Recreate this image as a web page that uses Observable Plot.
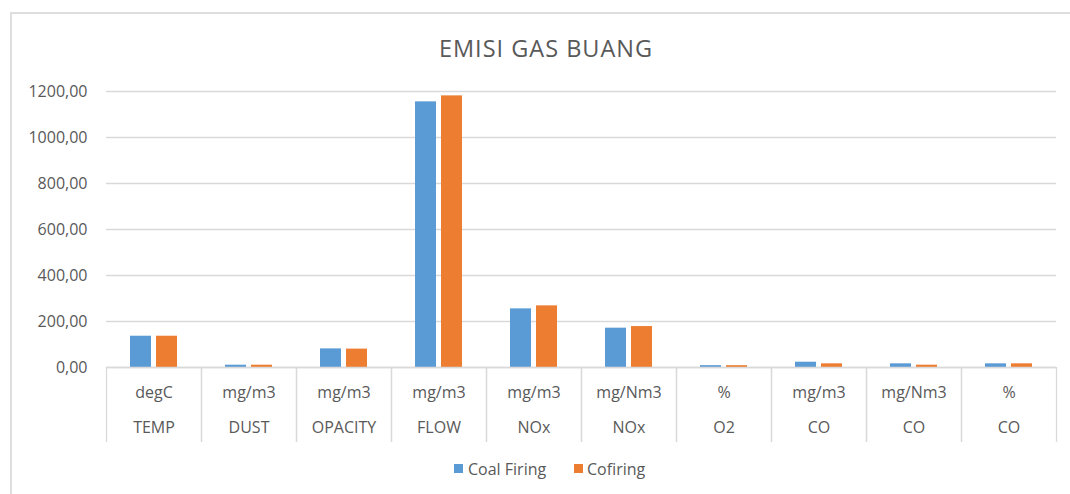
<!DOCTYPE html>
<html>
<head>
<meta charset="utf-8">
<script src="https://cdn.jsdelivr.net/npm/d3@7"></script>
<script src="https://cdn.jsdelivr.net/npm/@observablehq/plot@0.6"></script>
<style>
  html, body { margin: 0; padding: 0; background: #fff; overflow: hidden; }
  body { width: 1070px; height: 494px; position: relative; font-family: "Open Sans", sans-serif; color: #595959; }
  #frame { position: absolute; left: 10px; top: 12px; right: -4px; bottom: -4px; border-left: 2px solid #dedede; border-top: 2px solid #dedede; }
  #title { position: absolute; left: 346px; width: 400px; top: 32px; text-align: center; font-size: 23.5px; letter-spacing: 1px; line-height: 32px; color: #595959; }
  #chart { position: absolute; left: 0; top: 75px; }
  .sw { position: absolute; width: 9px; height: 9px; top: 464px; }
  .lt { position: absolute; top: 458px; font-size: 16px; line-height: 22px; color: #595959; white-space: nowrap; }
</style>
</head>
<body>
<div id="frame"></div>
<div id="title">EMISI GAS BUANG</div>
<div id="chart"></div>
<div id="legend"></div>
<script>
// ---- data ----
const params = ["TEMP", "DUST", "OPACITY", "FLOW", "NOx", "NOx", "O2", "CO", "CO", "CO"];
const units = ["degC", "mg/m3", "mg/m3", "mg/m3", "mg/m3", "mg/Nm3", "%", "mg/m3", "mg/Nm3", "%"];
const seriesNames = ["Coal Firing", "Cofiring"];
const coalFiring = [136, 10, 81, 1155, 255, 171, 8, 23, 16, 16];
const cofiring = [136, 10, 80, 1181, 268, 178, 8, 16, 10, 16];
const yTicks = [0, 200, 400, 600, 800, 1000, 1200];
const colors = ["#5b9bd5", "#ed7d31"];

const cats = d3.range(params.length);
const rows = [];
cats.forEach(i => {
  rows.push({cat: i, series: seriesNames[0], value: coalFiring[i]});
  rows.push({cat: i, series: seriesNames[1], value: cofiring[i]});
});

const W = 1070, H = 370, mL = 106, mR = 14, mT = 16, mB = 78;
const half = (W - mL - mR) / cats.length / 2;
const gray = "#d9d9d9";

const chart = Plot.plot({
  width: W, height: H,
  marginTop: mT, marginBottom: mB, marginLeft: mL, marginRight: mR,
  style: {fontFamily: "Open Sans", fontSize: "16px", color: "#595959", background: "transparent", overflow: "visible"},
  fx: {domain: cats, padding: 0, label: null, axis: null},
  x: {domain: seriesNames, paddingInner: 0.18, paddingOuter: 0.87, axis: null},
  y: {domain: [0, 1200], axis: null},
  color: {domain: seriesNames, range: colors},
  marks: [
    Plot.gridY(yTicks, {stroke: gray, strokeOpacity: 1, strokeWidth: 1.3}),
    Plot.axisY(yTicks, {tickSize: 0, tickPadding: 19, tickFormat: d => d.toFixed(2).replace(".", ","), label: null, fill: "#595959"}),
    Plot.barY(rows, {fx: "cat", x: "series", y: "value", fill: "series"}),
    Plot.ruleY([0], {stroke: gray, strokeWidth: 1.5}),
    Plot.axisFx({anchor: "bottom", tickSize: 0, tickPadding: 19, tickFormat: i => units[i], label: null, fill: "#595959"}),
    Plot.axisFx({anchor: "bottom", tickSize: 0, tickPadding: 54, tickFormat: i => params[i], label: null, fill: "#595959"}),
    Plot.axisFx({anchor: "bottom", tickSize: 75, tickFormat: () => "", dx: -half, stroke: gray, strokeWidth: 1.3, label: null}),
    Plot.axisFx([cats[cats.length - 1]], {anchor: "bottom", tickSize: 75, tickFormat: () => "", dx: half, stroke: gray, strokeWidth: 1.3, label: null})
  ]
});
document.getElementById("chart").appendChild(chart);

// legend
const legend = document.getElementById("legend");
const swX = [454, 574], txX = [468, 587];
seriesNames.forEach((s, k) => {
  const sw = document.createElement("div");
  sw.className = "sw"; sw.style.left = swX[k] + "px"; sw.style.background = colors[k];
  const t = document.createElement("div");
  t.className = "lt"; t.style.left = txX[k] + "px"; t.textContent = s;
  legend.appendChild(sw); legend.appendChild(t);
});
</script>
</body>
</html>
